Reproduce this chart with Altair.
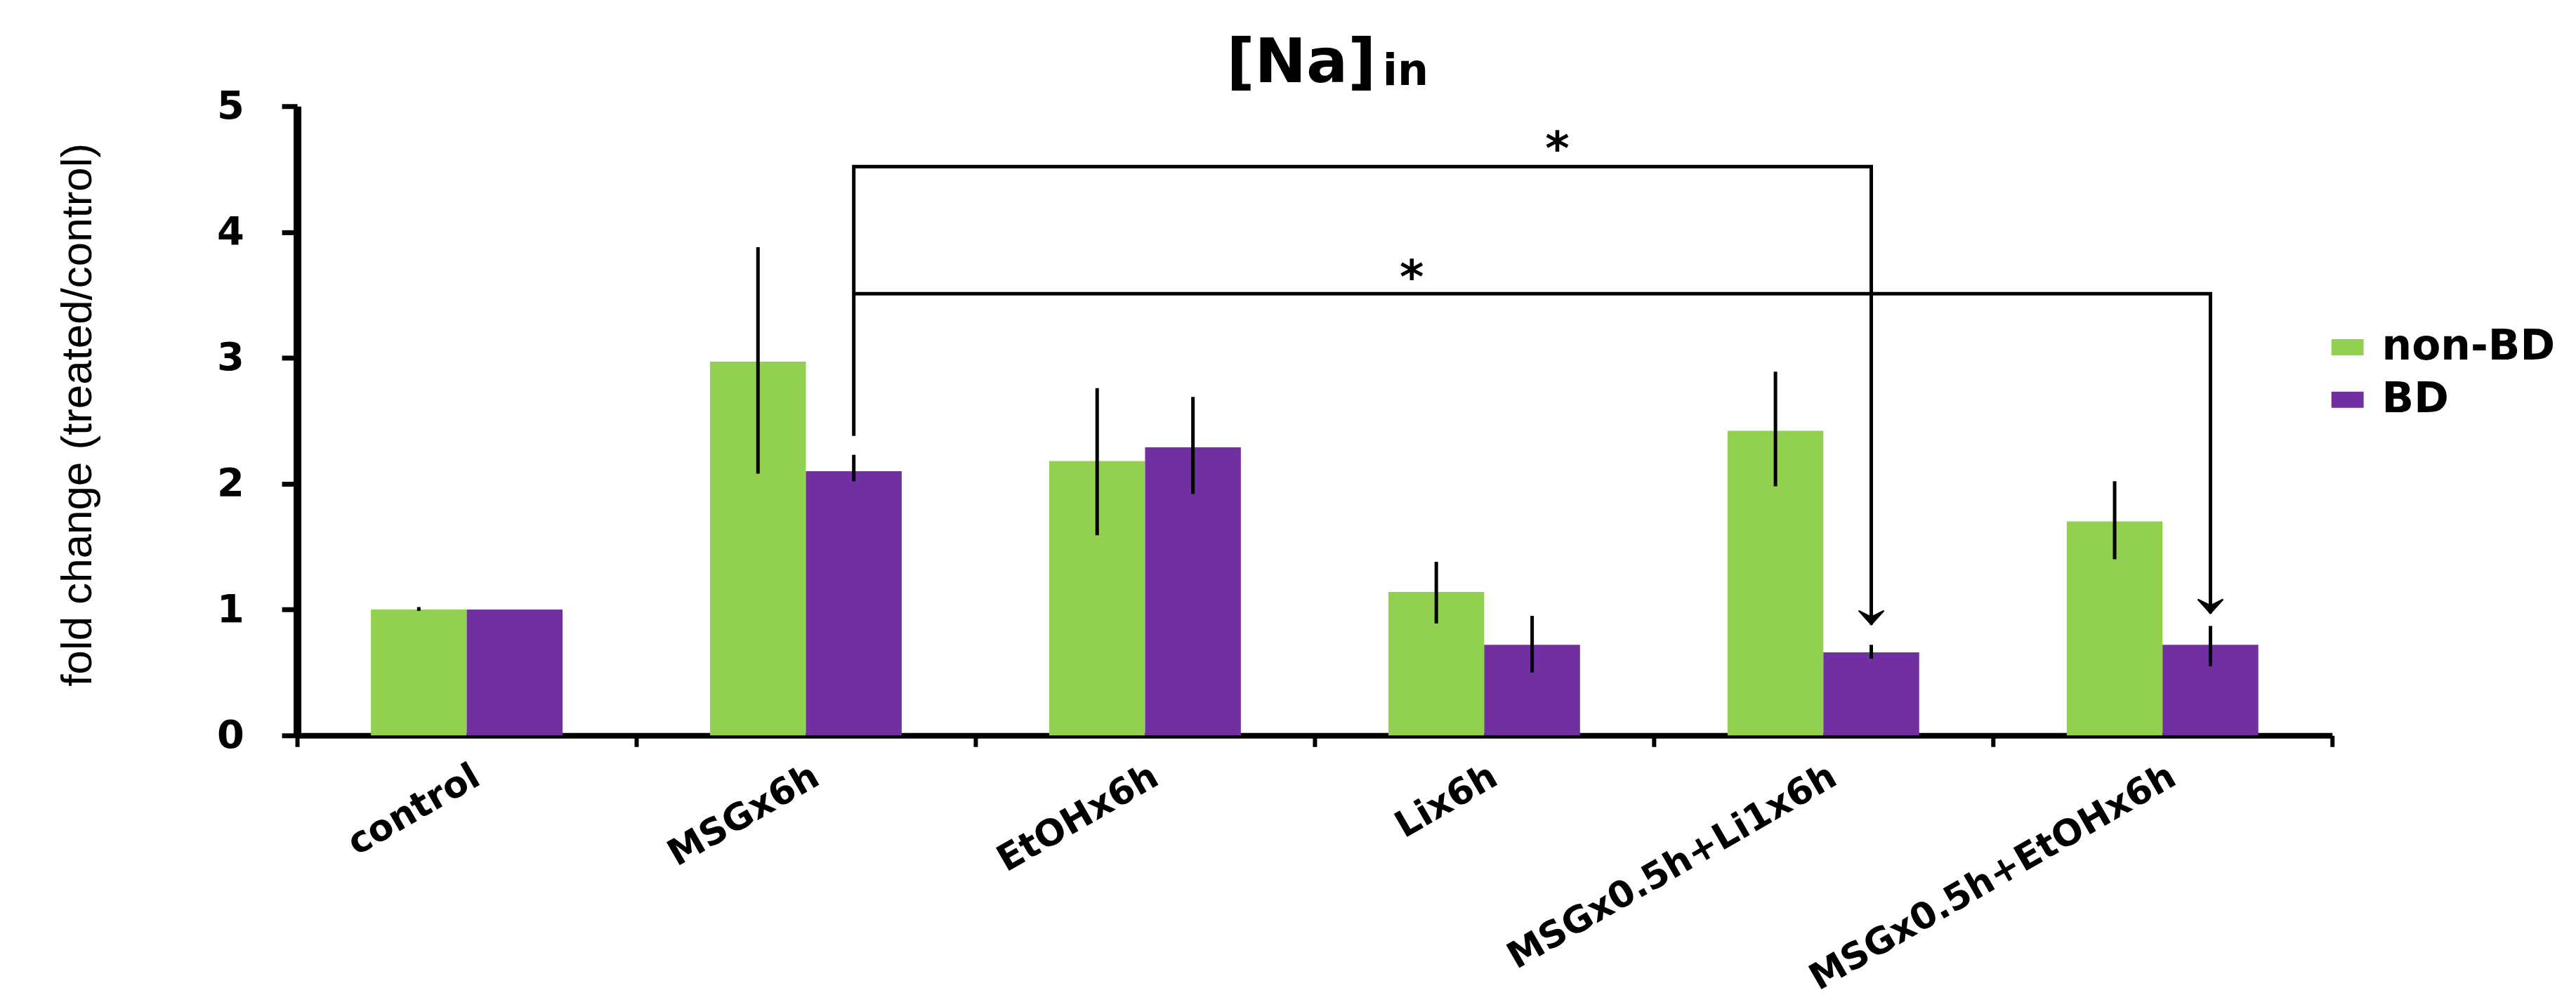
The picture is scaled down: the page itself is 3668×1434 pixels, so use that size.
import altair as alt
import pandas as pd

# ---------------- data ----------------
categories = ["control", "MSGx6h", "EtOHx6h", "Lix6h", "MSGx0.5h+Li1x6h", "MSGx0.5h+EtOHx6h"]
groups = ["non-BD", "BD"]
colors = ["#92D050", "#7030A0"]

nonbd_mean = [1.00, 2.97, 2.18, 1.14, 2.42, 1.70]
nonbd_low = [0.99, 2.08, 1.59, 0.89, 1.98, 1.40]
nonbd_high = [1.02, 3.88, 2.76, 1.38, 2.89, 2.02]

bd_mean = [1.00, 2.10, 2.29, 0.72, 0.66, 0.72]
bd_low = [1.00, 2.02, 1.92, 0.50, 0.61, 0.55]
bd_high = [1.00, 2.23, 2.69, 0.95, 0.72, 0.87]

# significance brackets (drawn from the BD bars)
bracket1_cats = ["MSGx6h", "MSGx6h", "MSGx0.5h+Li1x6h", "MSGx0.5h+Li1x6h"]
bracket1_levels = [2.38, 4.52, 4.52, 0.88]
bracket2_cats = ["MSGx6h", "MSGx0.5h+EtOHx6h", "MSGx0.5h+EtOHx6h"]
bracket2_levels = [3.51, 3.51, 0.97]
star_levels = [4.74, 3.72]

y_ticks = [0, 1, 2, 3, 4, 5]
title_main = "[Na]"
title_sub = "in"
y_title = "fold change (treated/control)"

# ---------------- tables ----------------
rows = []
for i, c in enumerate(categories):
    rows.append({"category": c, "group": "non-BD", "mean": nonbd_mean[i], "low": nonbd_low[i], "high": nonbd_high[i]})
    rows.append({"category": c, "group": "BD", "mean": bd_mean[i], "low": bd_low[i], "high": bd_high[i]})
bars_df = pd.DataFrame(rows)

br_rows = []
for k, (c, v) in enumerate(zip(bracket1_cats, bracket1_levels)):
    br_rows.append({"bracket": "b1", "step": k, "category": c, "group": "BD", "level": v})
for k, (c, v) in enumerate(zip(bracket2_cats, bracket2_levels)):
    br_rows.append({"bracket": "b2", "step": k, "category": c, "group": "BD", "level": v})
br_df = pd.DataFrame(br_rows)
tips_df = pd.DataFrame([
    {"category": bracket1_cats[-1], "group": "BD", "level": bracket1_levels[-1]},
    {"category": bracket2_cats[-1], "group": "BD", "level": bracket2_levels[-1]},
])
star1_df = pd.DataFrame([{"category": "Lix6h", "group": "BD", "level": star_levels[0], "t": "*"}])
star2_df = pd.DataFrame([{"category": "Lix6h", "group": "non-BD", "level": star_levels[1], "t": "*"}])

# ---------------- styling ----------------
WIDE = "DejaVu Sans"
ARIAL = "Liberation Sans, Arial, sans-serif"

x_axis = alt.Axis(
    title=None, labelAngle=-30, labelAlign="right", labelBaseline="middle",
    labelFont=WIDE, labelFontSize=52, labelFontWeight="bold", labelColor="black",
    labelPadding=38, labelOffset=14, labelLimit=2000, labelOverlap=False,
    tickBand="extent", tickSize=16, tickWidth=6, tickColor="black",
    domainColor="black", domainWidth=8, grid=False,
)
y_axis = alt.Axis(
    values=y_ticks, format="d", title=y_title,
    titleFont=ARIAL, titleFontSize=62, titleFontWeight="normal", titleColor="black",
    titleAngle=-90, titleX=-313, titleY=440, titleBaseline="middle", titleAlign="center",
    labelFont=WIDE, labelFontSize=56, labelFontWeight="bold", labelColor="black",
    labelPadding=54, tickSize=22, tickWidth=7, tickColor="black",
    domainColor="black", domainWidth=11, grid=False,
)

X = alt.X("category:N", sort=categories,
          scale=alt.Scale(domain=categories, paddingInner=0, paddingOuter=0), axis=x_axis)
XO = alt.XOffset("group:N", sort=groups,
                 scale=alt.Scale(domain=groups, paddingInner=0, paddingOuter=0.77))
YS = alt.Scale(domain=[0, 5], nice=False, zero=True)

bars = alt.Chart(bars_df).mark_bar(stroke=None).encode(
    x=X, xOffset=XO,
    y=alt.Y("mean:Q", scale=YS, axis=y_axis),
    color=alt.Color("group:N", sort=groups,
                    scale=alt.Scale(domain=groups, range=colors),
                    legend=alt.Legend(orient="none", legendX=2896, legendY=314, title=None,
                                      symbolType="M-1,-0.5H1V0.5H-1Z", symbolSize=2116,
                                      symbolStrokeWidth=0, symbolOpacity=1,
                                      labelFont=WIDE, labelFontWeight="bold", labelFontSize=60,
                                      labelColor="black", labelOffset=19, rowPadding=15,
                                      padding=0, labelLimit=2000)),
)

errs = alt.Chart(bars_df).mark_rule(color="black", strokeWidth=5).encode(
    x=X, xOffset=XO,
    y=alt.Y("low:Q", scale=YS),
    y2="high:Q",
)

brackets = alt.Chart(br_df).mark_line(color="black", strokeWidth=5, strokeJoin="miter").encode(
    x=X, xOffset=XO,
    y=alt.Y("level:Q", scale=YS),
    detail="bracket:N",
    order="step:Q",
)

tips = alt.Chart(tips_df).mark_point(
    shape="M-0.9,-1L0,0L0.9,-1L0,-0.55Z", size=1600, filled=True, fill="black",
    stroke="black", strokeWidth=2, opacity=1
).encode(x=X, xOffset=XO, y=alt.Y("level:Q", scale=YS))

star1 = alt.Chart(star1_df).mark_text(
    font=WIDE, fontWeight="bold", fontSize=66, color="black", baseline="alphabetic", dx=36, dy=36
).encode(x=X, xOffset=XO, y=alt.Y("level:Q", scale=YS), text="t:N")

star2 = alt.Chart(star2_df).mark_text(
    font=WIDE, fontWeight="bold", fontSize=66, color="black", baseline="alphabetic", dx=-35, dy=36
).encode(x=X, xOffset=XO, y=alt.Y("level:Q", scale=YS), text="t:N")

title_df = pd.DataFrame([{"main": title_main, "sub": title_sub}])
t_main = alt.Chart(title_df).mark_text(
    font=WIDE, fontWeight="bold", fontSize=88, color="black", align="center", baseline="alphabetic"
).encode(x=alt.value(1433), y=alt.value(-34), text="main:N")
t_sub = alt.Chart(title_df).mark_text(
    font=WIDE, fontWeight="bold", fontSize=62, color="black", align="left", baseline="alphabetic"
).encode(x=alt.value(1549), y=alt.value(-30), text="sub:N")

chart = alt.layer(bars, errs, brackets, tips, star1, star2, t_main, t_sub).properties(
    width=2904, height=898,
    padding={"left": 416, "top": 142, "right": 340, "bottom": 378},
    autosize=alt.AutoSizeParams(type="none"),
    background="white",
).configure_view(stroke=None)

chart.save("out.html", embed_options={"renderer": "svg", "actions": False})
